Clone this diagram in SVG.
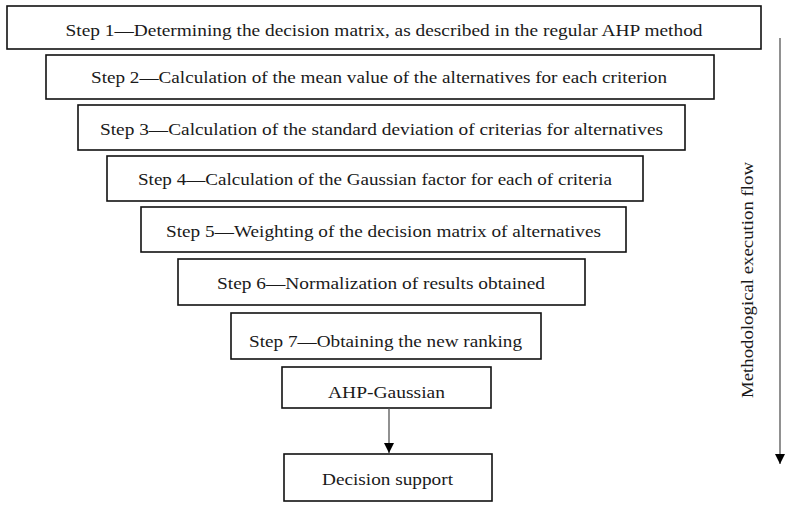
<svg xmlns="http://www.w3.org/2000/svg" width="792" height="507" viewBox="0 0 792 507">
<style>
rect.box{fill:#fff;stroke:#111;stroke-width:1.6}
text{font-family:"Liberation Serif","DejaVu Serif",serif;font-size:16.5px;fill:#1a1a1a;text-anchor:middle}
.conn{stroke:#555;stroke-width:1.3;fill:none}
</style>
<defs>
<marker id="ah" markerWidth="10" markerHeight="10" refX="10" refY="5" orient="auto" markerUnits="userSpaceOnUse" viewBox="0 0 10 10">
<path d="M0,0 L10,5 L0,10 z" fill="#000"/>
</marker>
</defs>
<rect width="792" height="507" fill="#fff"/>
<g id="step1"><rect class="box" x="7" y="6" width="754" height="43"/><text x="384" y="36" textLength="637" lengthAdjust="spacingAndGlyphs">Step 1—Determining the decision matrix, as described in the regular AHP method</text></g>
<g id="step2"><rect class="box" x="46" y="55" width="668" height="44"/><text x="379" y="83" textLength="576" lengthAdjust="spacingAndGlyphs">Step 2—Calculation of the mean value of the alternatives for each criterion</text></g>
<g id="step3"><rect class="box" x="78" y="105" width="607" height="45"/><text x="381.5" y="135" textLength="563" lengthAdjust="spacingAndGlyphs">Step 3—Calculation of the standard deviation of criterias for alternatives</text></g>
<g id="step4"><rect class="box" x="107" y="156" width="536" height="45"/><text x="375" y="185" textLength="474" lengthAdjust="spacingAndGlyphs">Step 4—Calculation of the Gaussian factor for each of criteria</text></g>
<g id="step5"><rect class="box" x="141" y="207" width="485" height="45"/><text x="383.5" y="237" textLength="435" lengthAdjust="spacingAndGlyphs">Step 5—Weighting of the decision matrix of alternatives</text></g>
<g id="step6"><rect class="box" x="178" y="259" width="407" height="46"/><text x="381" y="289" textLength="328" lengthAdjust="spacingAndGlyphs">Step 6—Normalization of results obtained</text></g>
<g id="step7"><rect class="box" x="231" y="313" width="310" height="46"/><text x="385.5" y="347" textLength="273" lengthAdjust="spacingAndGlyphs">Step 7—Obtaining the new ranking</text></g>
<g id="ahp"><rect class="box" x="282" y="367" width="209" height="41"/><text x="386.5" y="398" textLength="117" lengthAdjust="spacingAndGlyphs">AHP-Gaussian</text></g>
<g id="decision"><rect class="box" x="284" y="454" width="208" height="47"/><text x="387.5" y="485" textLength="131" lengthAdjust="spacingAndGlyphs">Decision support</text></g>
<g id="flowlabel"><text transform="translate(753,280) rotate(-90)" textLength="236" lengthAdjust="spacingAndGlyphs">Methodological execution flow</text></g>
<g id="connectors">
<line class="conn" x1="389" y1="408" x2="389" y2="453" marker-end="url(#ah)"/>
<line class="conn" x1="780" y1="38" x2="780" y2="464" marker-end="url(#ah)"/>
</g>
</svg>
